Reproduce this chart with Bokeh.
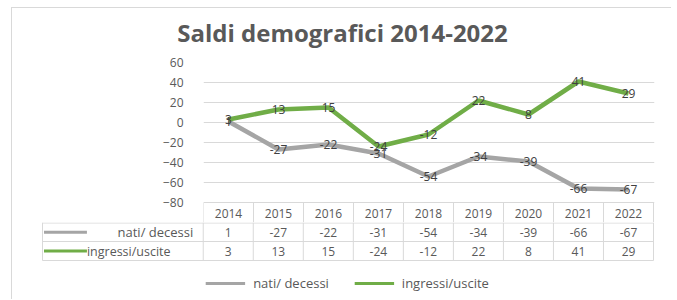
from bokeh.plotting import figure
from bokeh.models import Range1d, FixedTicker, Legend, LegendItem, ColumnDataSource, Column
from bokeh.embed import file_html
from bokeh.resources import INLINE
from bokeh.core.properties import value

# ---- data ----
years = ["2014", "2015", "2016", "2017", "2018", "2019", "2020", "2021", "2022"]
nati_decessi = [1, -27, -22, -31, -54, -34, -39, -66, -67]
ingressi_uscite = [3, 13, 15, -24, -12, 22, 8, 41, 29]
series_names = ["nati/ decessi", "ingressi/uscite"]
series_colors = ["#A5A5A5", "#70AD47"]
y_ticks = [-80, -60, -40, -20, 0, 20, 40, 60]
title_text = "Saldi demografici 2014-2022"

FONT = "Open Sans"
TXT = "#595959"
GRID = "#D9D9D9"

W = 660
FL = 191          # frame left (px inside figure)
FR = 18
FW = W - FL - FR
n = len(years)
ppu = FW / n      # pixels per category
x_end = n - 0.5 + 1.0 / ppu


def bare(fig):
    fig.frame_align = False
    fig.outline_line_color = None
    fig.border_fill_color = "white"
    fig.background_fill_color = "white"
    return fig


# ---- title strip ----
H0 = 46
h = bare(figure(width=W, height=H0, x_range=Range1d(0, 1), y_range=Range1d(H0, 0),
                output_backend="svg", toolbar_location=None, x_axis_location=None, y_axis_location=None,
                min_border_left=0, min_border_right=0, min_border_top=0, min_border_bottom=0))
h.grid.visible = False
h.text(x=[0.5], y=[24], text=[title_text], text_align="center", text_baseline="middle",
       text_font=value(FONT), text_font_style="bold", text_font_size="24px", text_color=TXT)

# ---- chart (with the table's header row of years below -80) ----
y_lo = y_ticks[0] - 20          # header row of the data table
H1 = 8 + (y_ticks[-1] - y_lo)
p = bare(figure(width=W, height=H1, x_range=Range1d(-0.5, x_end), y_range=Range1d(y_lo, y_ticks[-1]),
                output_backend="svg", toolbar_location=None, x_axis_location=None,
                min_border_left=FL, min_border_right=FR, min_border_top=8, min_border_bottom=0))
p.xgrid.visible = False
p.ygrid.grid_line_color = GRID
p.ygrid.ticker = FixedTicker(ticks=y_ticks)
p.yaxis.ticker = FixedTicker(ticks=y_ticks)
p.yaxis.axis_line_color = None
p.yaxis.major_tick_line_color = None
p.yaxis.minor_tick_line_color = None
p.yaxis.major_label_text_font = FONT
p.yaxis.major_label_text_font_size = "12px"
p.yaxis.major_label_text_color = TXT
p.yaxis.major_label_standoff = 14

xs = list(range(n))
src = ColumnDataSource(dict(x=xs, a=nati_decessi, b=ingressi_uscite,
                            la=[str(v) for v in nati_decessi],
                            lb=[str(v) for v in ingressi_uscite]))
p.line("x", "a", source=src, line_color=series_colors[0], line_width=4.5)
p.line("x", "b", source=src, line_color=series_colors[1], line_width=4.5)
for col in ("la", "lb"):
    ycol = "a" if col == "la" else "b"
    p.text("x", ycol, text=col, source=src, text_align="center", text_baseline="middle",
           text_font=value(FONT), text_font_size="12px", text_color="#404040")

vx = [i - 0.5 for i in range(n + 1)]
p.segment(x0=vx, y0=[y_ticks[0]] * len(vx), x1=vx, y1=[y_lo] * len(vx), line_color=GRID, line_width=1)
p.text(x=xs, y=[y_ticks[0] - 11] * n, text=years, text_align="center", text_baseline="middle",
       text_font=value(FONT), text_font_size="12px", text_color=TXT)

# ---- data table rows + legend ----
H2 = 78
TL = 28                       # table figure frame left
left_col_px = 203 - 42        # width of the series-name column
x_left = -0.5 - left_col_px / ppu
x0 = -0.5 - (FL - TL) / ppu
t = bare(figure(width=W, height=H2, x_range=Range1d(x0, x_end), y_range=Range1d(H2, 0),
                output_backend="svg", toolbar_location=None, x_axis_location=None, y_axis_location=None,
                min_border_left=TL, min_border_right=FR, min_border_top=0, min_border_bottom=0))
t.grid.visible = False

row_top = [0.5, 19, 38]
t.segment(x0=[x_left] * 3, y0=row_top, x1=[n - 0.5] * 3, y1=row_top, line_color=GRID, line_width=1)
t.segment(x0=vx + [x_left], y0=[0] * (len(vx) + 1), x1=vx + [x_left], y1=[row_top[-1]] * (len(vx) + 1),
          line_color=GRID, line_width=1)

cy = [(row_top[i] + row_top[i + 1]) / 2 for i in range(2)]
t.text(x=xs, y=[cy[0]] * n, text=[str(v) for v in nati_decessi], text_align="center",
       text_baseline="middle", text_font=value(FONT), text_font_size="12px", text_color=TXT)
t.text(x=xs, y=[cy[1]] * n, text=[str(v) for v in ingressi_uscite], text_align="center",
       text_baseline="middle", text_font=value(FONT), text_font_size="12px", text_color=TXT)

# series-name cells
samp_w = 43 / ppu
r1 = t.line(x=[x_left + 0.03, x_left + 0.03 + samp_w], y=[cy[0], cy[0]], line_color=series_colors[0], line_width=3)
r2 = t.line(x=[x_left + 0.03, x_left + 0.03 + samp_w], y=[cy[1], cy[1]], line_color=series_colors[1], line_width=3)
t.text(x=[-0.5 - 10 / ppu], y=[cy[0]], text=[series_names[0]], text_align="right", text_baseline="middle",
       text_font=value(FONT), text_font_size="13px", text_color=TXT)
t.text(x=[x_left + 0.03 + samp_w], y=[cy[1]], text=[series_names[1]], text_align="left", text_baseline="middle",
       text_font=value(FONT), text_font_size="12.5px", text_color=TXT)

legend = Legend(items=[LegendItem(label=series_names[0], renderers=[r1]),
                       LegendItem(label=series_names[1], renderers=[r2])],
                orientation="horizontal", location="bottom_center")
legend.label_text_font = FONT
legend.label_text_font_size = "13px"
legend.label_text_color = TXT
legend.border_line_color = None
legend.background_fill_alpha = 0
legend.glyph_width = 40
legend.label_standoff = 8
legend.spacing = 25
legend.padding = 0
legend.margin = 7
t.add_layout(legend)

layout = Column(children=[h, p, t], spacing=0, margin=(8, 0, 0, 12),
                styles={"box-shadow": "-1px -1px 0 0 #D9D9D9"})

open("out.html", "w").write(file_html(layout, INLINE))
